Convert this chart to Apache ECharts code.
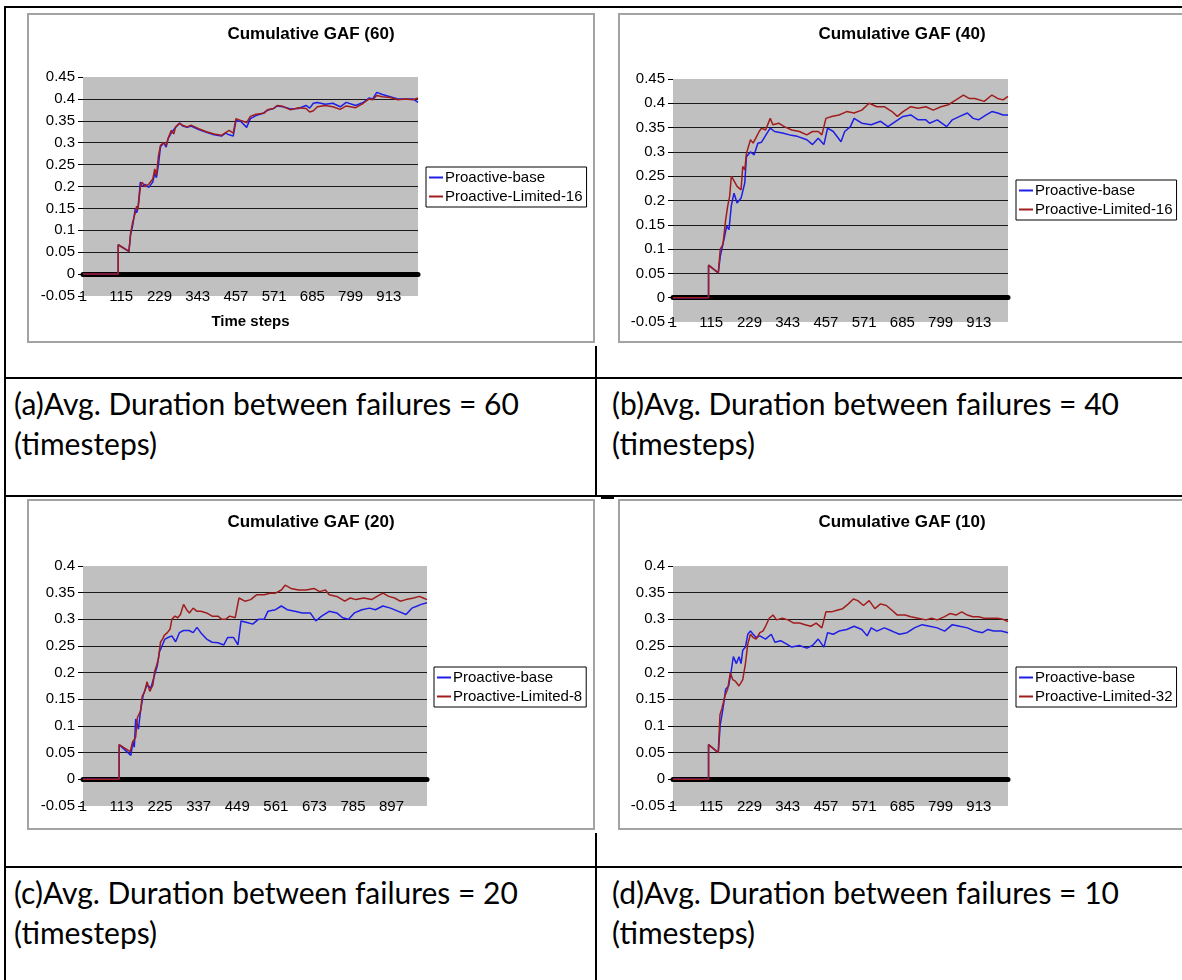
<!DOCTYPE html>
<html><head><meta charset="utf-8">
<script src="https://cdn.jsdelivr.net/npm/echarts@6/dist/echarts.min.js"></script>
<style>
html,body{margin:0;padding:0;width:1182px;height:980px;overflow:hidden;background:#fff;}
.ln{position:absolute;background:#000;}
.chart{position:absolute;background:#fff;}
.frame{position:absolute;box-sizing:border-box;border:2px solid #a3a3a3;pointer-events:none;z-index:3;}
.cap{position:absolute;font-family:Lato,'Open Sans',sans-serif;font-size:30px;line-height:40px;color:#000;white-space:nowrap;}
</style></head><body>
<div class="ln" style="left:4px;top:6px;width:1178px;height:2px"></div>
<div class="ln" style="left:4px;top:6px;width:2px;height:974px"></div>
<div class="ln" style="left:4px;top:377px;width:1178px;height:2px"></div>
<div class="ln" style="left:4px;top:495px;width:1178px;height:2px"></div>
<div class="ln" style="left:601px;top:497px;width:13px;height:2px"></div>
<div class="ln" style="left:4px;top:866px;width:1178px;height:2px"></div>
<div class="ln" style="left:595px;top:346px;width:2px;height:150px"></div>
<div class="ln" style="left:595px;top:833px;width:2px;height:147px"></div>

<div id="ca" class="chart" style="left:27px;top:13px;width:568px;height:330px"></div>
<div class="frame" style="left:27px;top:13px;width:568px;height:330px"></div>
<div id="cb" class="chart" style="left:618px;top:13px;width:568px;height:330px"></div>
<div class="frame" style="left:618px;top:13px;width:568px;height:330px"></div>
<div id="cc" class="chart" style="left:27px;top:499px;width:568px;height:331px"></div>
<div class="frame" style="left:27px;top:499px;width:568px;height:331px"></div>
<div id="cd" class="chart" style="left:618px;top:499px;width:568px;height:331px"></div>
<div class="frame" style="left:618px;top:499px;width:568px;height:331px"></div>

<div id="capa" class="cap" style="left:14px;top:383px"></div>
<div id="capb" class="cap" style="left:612px;top:383px"></div>
<div id="capc" class="cap" style="left:14px;top:872px"></div>
<div id="capd" class="cap" style="left:612px;top:872px"></div>

<script>
// ---------- data ----------
const titles = ['Cumulative GAF (60)', 'Cumulative GAF (40)', 'Cumulative GAF (20)', 'Cumulative GAF (10)'];
const baseName = 'Proactive-base';
const limitedNames = ['Proactive-Limited-16', 'Proactive-Limited-16', 'Proactive-Limited-8', 'Proactive-Limited-32'];
const captions = [
  ['(a)Avg. Duration between failures = 60', '(timesteps)'],
  ['(b)Avg. Duration between failures = 40', '(timesteps)'],
  ['(c)Avg. Duration between failures = 20', '(timesteps)'],
  ['(d)Avg. Duration between failures = 10', '(timesteps)']
];
const xTicks114 = [1, 115, 229, 343, 457, 571, 685, 799, 913];
const xTicks112 = [1, 113, 225, 337, 449, 561, 673, 785, 897];
const yMin = -0.05, yMax = 0.45, yMaxCD = 0.4, yStep = 0.05;

// [time step, cumulative GAF]
const aBase = [[1,0],[106,0],[106,0.067],[138,0.052],[143,0.09],[149,0.11],[157,0.15],[161,0.14],[165,0.15],[172,0.21],[177,0.2],[186,0.205],[197,0.198],[209,0.21],[215,0.23],[220,0.22],[226,0.25],[232,0.29],[241,0.3],[249,0.29],[255,0.31],[264,0.322],[272,0.33],[277,0.33],[289,0.345],[298,0.338],[312,0.335],[323,0.338],[346,0.33],[369,0.324],[392,0.318],[414,0.315],[426,0.322],[437,0.318],[449,0.315],[457,0.35],[471,0.349],[489,0.335],[500,0.355],[517,0.362],[540,0.368],[551,0.374],[569,0.378],[580,0.384],[597,0.382],[620,0.377],[643,0.378],[666,0.385],[677,0.379],[688,0.39],[700,0.392],[723,0.388],[746,0.39],[768,0.382],[786,0.392],[814,0.385],[837,0.392],[854,0.402],[865,0.4],[877,0.415],[894,0.41],[917,0.405],[940,0.4],[962,0.4],[985,0.4],[1000,0.392]];
const aLimited = [[1,0],[106,0],[106,0.067],[138,0.052],[143,0.094],[149,0.118],[157,0.14],[161,0.155],[165,0.148],[172,0.198],[177,0.21],[186,0.2],[197,0.205],[209,0.217],[215,0.24],[220,0.225],[226,0.27],[232,0.294],[241,0.3],[249,0.294],[255,0.31],[264,0.328],[272,0.32],[277,0.336],[289,0.344],[298,0.34],[312,0.336],[323,0.34],[346,0.332],[369,0.325],[392,0.32],[414,0.317],[426,0.323],[437,0.328],[449,0.322],[457,0.355],[471,0.351],[489,0.346],[500,0.36],[517,0.365],[540,0.367],[551,0.375],[569,0.378],[580,0.385],[597,0.383],[620,0.375],[643,0.38],[666,0.378],[677,0.37],[688,0.373],[700,0.382],[723,0.385],[746,0.382],[768,0.376],[786,0.384],[814,0.38],[837,0.39],[854,0.4],[865,0.398],[877,0.408],[894,0.405],[917,0.403],[940,0.398],[962,0.4],[985,0.398],[1000,0.402]];

const bBase = [[1,0],[107,0],[107,0.067],[136,0.051],[142,0.085],[153,0.12],[161,0.147],[168,0.14],[175,0.19],[183,0.215],[192,0.195],[204,0.205],[215,0.236],[220,0.29],[232,0.3],[243,0.294],[254,0.318],[265,0.32],[282,0.339],[291,0.349],[304,0.342],[327,0.339],[349,0.335],[372,0.332],[400,0.325],[417,0.315],[434,0.328],[451,0.315],[462,0.349],[479,0.342],[502,0.321],[513,0.342],[530,0.352],[541,0.369],[564,0.359],[592,0.356],[620,0.363],[642,0.352],[665,0.363],[687,0.373],[710,0.376],[732,0.366],[755,0.366],[766,0.359],[789,0.366],[817,0.352],[834,0.366],[856,0.373],[879,0.38],[896,0.369],[912,0.366],[935,0.376],[952,0.383],[969,0.38],[985,0.376],[1000,0.376]];
const bLimited = [[1,0],[107,0],[107,0.067],[136,0.051],[142,0.1],[150,0.11],[158,0.16],[164,0.188],[170,0.209],[175,0.25],[181,0.243],[192,0.229],[204,0.222],[209,0.27],[215,0.263],[220,0.297],[232,0.325],[240,0.318],[249,0.33],[258,0.342],[265,0.349],[277,0.345],[291,0.369],[299,0.356],[316,0.359],[333,0.352],[355,0.345],[378,0.342],[400,0.335],[417,0.342],[434,0.342],[445,0.335],[457,0.369],[474,0.373],[496,0.376],[519,0.383],[541,0.38],[564,0.386],[586,0.4],[609,0.393],[631,0.393],[654,0.383],[670,0.373],[687,0.383],[710,0.393],[732,0.39],[755,0.393],[777,0.386],[800,0.393],[822,0.397],[845,0.407],[867,0.417],[884,0.41],[901,0.41],[929,0.404],[952,0.417],[969,0.41],[985,0.407],[1000,0.414]];

const cBase = [[1,0],[106,0],[106,0.065],[140,0.045],[146,0.07],[150,0.06],[154,0.113],[162,0.094],[168,0.128],[176,0.159],[187,0.177],[198,0.171],[209,0.196],[217,0.214],[223,0.239],[231,0.251],[239,0.263],[248,0.266],[259,0.269],[270,0.258],[281,0.275],[293,0.279],[309,0.279],[321,0.275],[332,0.285],[343,0.275],[360,0.263],[376,0.257],[393,0.256],[410,0.252],[421,0.266],[438,0.266],[451,0.252],[460,0.297],[477,0.294],[494,0.291],[510,0.3],[527,0.3],[538,0.315],[560,0.318],[577,0.325],[594,0.318],[616,0.315],[638,0.312],[661,0.312],[677,0.297],[694,0.306],[716,0.315],[738,0.312],[755,0.303],[772,0.3],[789,0.312],[811,0.318],[833,0.321],[850,0.318],[872,0.325],[894,0.321],[917,0.315],[939,0.309],[956,0.321],[972,0.325],[983,0.328],[1000,0.331]];
const cLimited = [[1,0],[106,0],[106,0.065],[138,0.052],[145,0.07],[154,0.079],[159,0.116],[168,0.128],[173,0.156],[179,0.162],[187,0.183],[195,0.165],[204,0.177],[209,0.202],[215,0.214],[220,0.226],[226,0.257],[232,0.263],[237,0.27],[246,0.275],[254,0.282],[259,0.3],[268,0.306],[276,0.303],[284,0.309],[293,0.328],[302,0.318],[310,0.312],[321,0.321],[332,0.315],[343,0.315],[360,0.312],[376,0.306],[393,0.306],[404,0.3],[415,0.3],[427,0.306],[443,0.303],[454,0.34],[471,0.334],[488,0.337],[505,0.346],[527,0.346],[544,0.349],[560,0.349],[577,0.355],[588,0.364],[605,0.358],[627,0.355],[649,0.355],[672,0.358],[688,0.352],[705,0.355],[716,0.346],[738,0.343],[761,0.334],[777,0.34],[794,0.337],[816,0.34],[839,0.337],[855,0.343],[872,0.349],[889,0.343],[906,0.34],[922,0.334],[939,0.337],[961,0.34],[978,0.343],[989,0.34],[1000,0.337]];

const dBase = [[1,0],[107,0],[107,0.065],[136,0.05],[142,0.103],[147,0.121],[153,0.145],[158,0.169],[167,0.175],[175,0.205],[181,0.23],[190,0.217],[198,0.23],[204,0.217],[209,0.242],[217,0.248],[224,0.272],[232,0.278],[240,0.272],[249,0.266],[260,0.269],[277,0.263],[294,0.272],[305,0.257],[322,0.26],[339,0.254],[355,0.248],[378,0.251],[400,0.246],[417,0.251],[434,0.263],[451,0.248],[462,0.275],[479,0.272],[496,0.278],[519,0.281],[541,0.287],[564,0.281],[580,0.269],[592,0.284],[609,0.278],[631,0.284],[654,0.278],[676,0.272],[699,0.275],[721,0.284],[744,0.29],[766,0.287],[789,0.284],[811,0.278],[834,0.29],[856,0.287],[879,0.284],[901,0.278],[924,0.275],[940,0.281],[957,0.278],[980,0.278],[1000,0.275]];
const dLimited = [[1,0],[107,0],[107,0.065],[136,0.05],[141,0.121],[147,0.133],[156,0.157],[164,0.169],[172,0.2],[179,0.187],[187,0.184],[198,0.175],[209,0.187],[217,0.217],[224,0.254],[232,0.272],[240,0.266],[249,0.263],[260,0.275],[269,0.278],[277,0.287],[288,0.302],[299,0.308],[310,0.299],[327,0.302],[344,0.299],[361,0.293],[378,0.293],[395,0.29],[412,0.287],[428,0.293],[445,0.284],[457,0.314],[474,0.314],[490,0.317],[507,0.32],[524,0.329],[539,0.338],[552,0.335],[569,0.326],[586,0.335],[603,0.32],[620,0.329],[637,0.326],[654,0.317],[670,0.308],[693,0.308],[710,0.305],[732,0.302],[755,0.299],[772,0.302],[789,0.299],[811,0.305],[828,0.311],[845,0.308],[862,0.314],[879,0.308],[895,0.305],[912,0.305],[929,0.302],[946,0.302],[969,0.302],[985,0.3],[1000,0.296]];

// ---------- charts ----------
const FONT = "'Liberation Sans', Arial, sans-serif";
function makeOption(p) {
  return {
    animation: false,
    title: { text: p.title, left: 'center', top: p.titleTop, padding: 0,
      textStyle: { fontFamily: FONT, fontSize: 17, fontWeight: 'bold', color: '#000' } },
    legend: { orient: 'vertical', left: p.legLeft, top: p.legTop, data: [baseName, p.limName],
      icon: 'rect', itemWidth: 14, itemHeight: 2, itemGap: 4, padding: [3, 4, 3, 3],
      borderColor: '#000', borderWidth: 1, backgroundColor: '#fff',
      textStyle: { fontFamily: FONT, fontSize: 15, color: '#000', padding: [0, 0, 0, -3] } },
    grid: { left: p.gl, top: p.gt, width: p.gw, height: p.gh, show: true,
      backgroundColor: '#c0c0c0', borderWidth: 0, containLabel: false },
    xAxis: [
      { type: 'value', min: 1, max: 1000, position: 'bottom',
        axisLine: { show: false, onZero: false }, axisTick: { show: false }, splitLine: { show: false },
        axisLabel: { customValues: p.xTicks, color: '#000', fontFamily: FONT, fontSize: 15,
          verticalAlign: 'middle', margin: 1, showMinLabel: true, showMaxLabel: true, hideOverlap: false },
        name: p.xName || '', nameLocation: 'middle', nameGap: 26,
        nameTextStyle: { fontFamily: FONT, fontSize: 15, fontWeight: 'bold', color: '#000', verticalAlign: 'middle' } },
      { type: 'value', min: 1, max: 1000, position: 'top',
        axisLine: { show: true, onZero: true, lineStyle: { color: '#000', width: 5 } },
        axisTick: { show: false }, axisLabel: { show: false }, splitLine: { show: false } }
    ],
    yAxis: { type: 'value', min: yMin, max: p.yMax, interval: yStep,
      axisLine: { show: false }, axisTick: { show: true, length: 5, lineStyle: { color: '#000' } },
      axisLabel: { color: '#000', fontFamily: FONT, fontSize: 15, margin: 8 },
      splitLine: { show: true, showMinLine: false, showMaxLine: false, lineStyle: { color: '#1a1a1a', width: 1.2 } } },
    series: [
      { name: baseName, type: 'line', data: p.base, showSymbol: false, symbol: 'none',
        lineStyle: { color: '#1e1ee6', width: 1.5 }, itemStyle: { color: '#1e1ee6' }, z: 3 },
      { name: p.limName, type: 'line', data: p.lim, showSymbol: false, symbol: 'none',
        lineStyle: { color: '#a11d1d', width: 1.5 }, itemStyle: { color: '#a11d1d' }, z: 4 }
    ]
  };
}

const cfgs = [
  { id: 'ca', title: titles[0], limName: limitedNames[0], base: aBase, lim: aLimited, xTicks: xTicks114, yMax: yMax,
    titleTop: 13, legLeft: 399, legTop: 154, gl: 56, gt: 64, gw: 335, gh: 219, xName: 'Time steps' },
  { id: 'cb', title: titles[1], limName: limitedNames[1], base: bBase, lim: bLimited, xTicks: xTicks114, yMax: yMax,
    titleTop: 13, legLeft: 398, legTop: 167, gl: 55, gt: 66, gw: 335, gh: 243 },
  { id: 'cc', title: titles[2], limName: limitedNames[2], base: cBase, lim: cLimited, xTicks: xTicks112, yMax: yMaxCD,
    titleTop: 15, legLeft: 407, legTop: 168, gl: 56, gt: 67, gw: 344, gh: 240 },
  { id: 'cd', title: titles[3], limName: limitedNames[3], base: dBase, lim: dLimited, xTicks: xTicks114, yMax: yMaxCD,
    titleTop: 15, legLeft: 398, legTop: 168, gl: 55, gt: 67, gw: 335, gh: 240 }
];
cfgs.forEach(function (c) {
  const ch = echarts.init(document.getElementById(c.id), null, { renderer: 'canvas' });
  ch.setOption(makeOption(c));
});
['capa', 'capb', 'capc', 'capd'].forEach(function (id, i) {
  document.getElementById(id).innerHTML = captions[i][0] + '<br>' + captions[i][1];
});
</script>
</body></html>
